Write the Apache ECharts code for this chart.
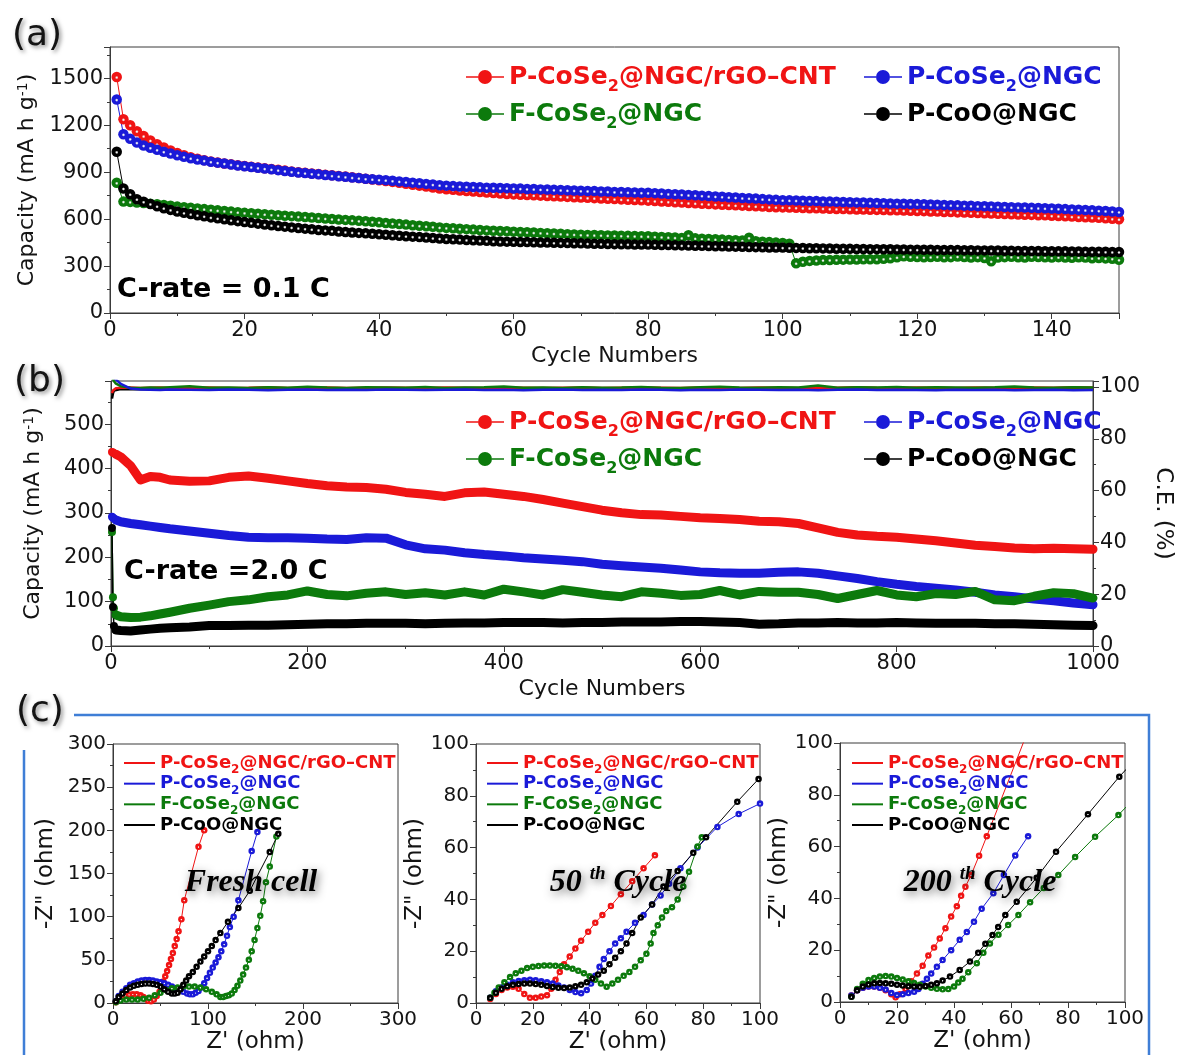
<!DOCTYPE html>
<html>
<head>
<meta charset="utf-8">
<script src="https://cdn.jsdelivr.net/npm/echarts@6/dist/echarts.min.js"></script>
<style>
  html, body { margin: 0; padding: 0; background: #ffffff; }
  #chart { width: 1182px; height: 1055px; }
</style>
</head>
<body>
<div id="chart"></div>
<script>
// ---------- series names ----------
const N_RED = 'P-CoSe2@NGC/rGO–CNT';
const N_BLUE = 'P-CoSe2@NGC';
const N_GREEN = 'F-CoSe2@NGC';
const N_BLACK = 'P-CoO@NGC';

// ---------- (a) capacity at 0.1 C, one value per cycle (cycle 1..150) ----------
const capA_red = [
  1508,1238,1200,1162,1131,1103,1079,1058,1039,1022,
  1008,996,986,977,969,962,956,950,945,940,
  935,930,925,920,915,910,905,900,896,892,
  888,884,880,876,872,868,863,858,853,848,
  843,838,832,826,820,814,808,802,796,791,
  787,783,779,776,773,770,767,764,761,758,
  756,754,752,750,748,746,744,742,740,738,
  736,734,732,730,728,726,724,722,720,718,
  716,713,711,708,706,703,701,698,696,694,
  692,690,688,686,684,682,680,678,676,675,
  674,673,671,670,669,668,666,665,664,663,
  662,661,660,659,658,657,656,655,654,652,
  651,649,648,646,645,643,642,640,639,637,
  636,634,633,631,630,628,627,625,624,622,
  620,618,616,614,612,610,608,605,602,599
];
const capA_blue = [
  1364,1142,1113,1089,1070,1056,1043,1031,1019,1008,
  998,989,981,974,967,961,955,949,943,938,
  933,928,923,918,913,908,903,898,894,890,
  886,882,878,874,870,866,862,858,855,852,
  849,845,841,837,833,829,825,821,817,814,
  811,809,807,805,803,801,800,799,798,796,
  795,793,792,790,789,787,786,784,783,781,
  780,779,777,776,774,773,771,770,769,768,
  766,764,761,759,757,754,752,750,747,745,
  743,740,738,735,733,731,728,726,723,721,
  720,719,717,716,715,713,712,711,709,708,
  707,706,704,703,702,700,699,698,697,696,
  695,693,692,690,689,688,686,685,683,682,
  681,679,678,676,675,674,672,671,669,668,
  666,664,662,660,658,656,654,652,649,646
];
const capA_green = [
  832,712,710,706,703,699,695,690,685,680,
  676,672,668,664,660,656,652,648,644,640,
  637,634,631,628,625,622,619,616,613,610,
  607,604,601,598,595,592,589,586,583,580,
  575,572,568,565,561,558,554,551,547,544,
  541,538,536,533,531,528,526,524,522,520,
  518,516,514,512,510,508,506,504,502,500,
  499,498,497,496,495,494,493,492,491,490,
  488,486,484,482,480,497,477,475,473,471,
  469,467,465,463,481,459,456,453,450,447,
  443,318,328,333,336,338,339,340,341,342,
  342,343,343,344,346,350,356,362,360,358,
  356,358,360,356,357,361,358,355,357,352,
  330,354,357,359,356,355,360,358,356,354,
  357,355,353,356,354,350,352,349,347,340
];
const capA_black = [
  1030,796,759,727,711,697,682,670,659,648,
  640,632,625,618,611,605,599,593,587,581,
  576,571,566,561,556,552,547,543,539,535,
  531,528,525,521,518,515,512,509,506,503,
  500,497,494,491,488,485,482,479,476,473,
  471,469,467,465,463,461,459,457,456,455,
  454,453,452,451,450,449,448,447,446,445,
  444,443,442,441,440,439,439,438,438,437,
  436,435,434,433,432,431,430,429,428,427,
  426,425,424,423,422,421,420,419,419,418,
  417,416,415,414,414,413,412,411,411,410,
  409,409,408,408,407,407,406,406,405,405,
  404,404,403,403,402,402,401,401,400,400,
  399,399,398,398,397,397,396,396,395,395,
  394,394,393,393,392,392,391,391,390,390
];

// ---------- (b) long cycling at 2.0 C ----------
const bCycle = [1,2,3,5,10,20,30,40,50,60,
  80,100,120,140,160,180,200,220,240,260,
  280,300,320,340,360,380,400,420,440,460,
  480,500,520,540,560,580,600,620,640,660,
  680,700,720,740,760,780,800,820,840,860,
  880,900,920,940,960,980,1000];
const capB_red = [437,436,434,432,426,406,374,382,380,374,
  371,372,380,383,378,372,366,361,358,357,
  353,346,342,337,345,347,342,337,330,322,
  314,306,300,296,295,292,289,287,285,281,
  280,276,266,256,250,247,245,241,237,232,
  227,224,221,219,220,219,218];
const capB_blue = [291,289,287,284,280,276,273,270,267,264,
  259,254,249,245,244,244,243,241,240,244,
  243,228,219,216,210,206,203,199,196,193,
  190,184,181,178,175,171,167,165,164,164,
  166,167,164,158,152,145,139,134,130,126,
  121,115,111,106,102,97,93];
const capB_green = [257,110,85,70,66,64,65,68,72,76,
  85,92,100,104,111,115,124,116,113,119,
  122,116,120,115,122,115,128,122,115,127,
  121,115,111,122,119,114,116,125,115,123,
  121,121,116,107,116,125,115,111,118,116,
  123,104,102,112,120,118,108];
const capB_black = [266,88,45,36,35,34,36,38,40,41,
  43,46,46,47,47,48,49,50,50,51,
  51,51,50,51,52,52,53,53,53,52,
  53,53,54,54,54,55,55,54,53,49,
  50,52,52,53,52,52,53,52,51,51,
  51,50,50,49,48,47,46];
// coulombic efficiency (%)
const ceB_red = [97.6,98.6,99.2,99.5,99.7,99.8,99.6,99.7,99.8,99.6,
  99.7,99.8,99.6,99.7,99.9,99.6,99.7,99.8,99.6,99.7,
  99.8,99.7,99.6,99.8,99.7,99.6,99.8,99.7,99.6,99.7,
  99.8,99.6,99.7,99.8,99.7,99.6,99.8,99.7,99.6,99.8,
  99.7,99.6,99.8,99.7,99.9,99.7,99.6,99.8,99.7,99.6,
  99.8,99.7,99.9,99.8,99.7,99.9,99.8];
const ceB_blue = [104.5,104,103.5,102.8,101.2,99.4,99.0,98.9,98.8,99.0,
  98.9,98.8,99.0,98.9,98.7,98.9,99.0,98.8,98.9,98.8,
  99.0,98.9,98.8,98.9,99.0,98.8,98.9,98.7,98.9,99.0,
  98.8,98.9,98.8,99.0,98.9,98.7,98.9,98.8,99.0,98.9,
  98.8,98.9,98.7,98.9,99.0,98.8,98.9,98.8,98.7,98.9,
  98.8,98.9,98.7,98.8,98.9,98.7,98.8];
const ceB_green = [104,103,102.2,101.3,100.3,99.7,99.6,99.8,99.7,99.9,
  100.3,99.7,99.8,99.6,99.9,99.7,100.1,99.8,99.6,99.9,
  99.8,99.7,100.0,99.6,99.8,99.9,100.2,99.7,99.8,99.6,
  99.9,99.7,99.8,100.0,99.7,99.6,99.9,100.1,99.8,99.7,
  99.9,99.8,100.6,99.7,99.9,99.8,100.0,99.7,99.9,99.8,
  99.7,99.9,100.2,99.8,99.7,99.9,99.8];
const ceB_black = [95.5,97.5,98.6,99.0,99.2,99.1,99.2,99.0,99.1,99.2,
  99.1,99.0,99.2,99.1,99.0,99.2,99.1,99.0,99.1,99.2,
  99.1,99.0,99.1,99.2,99.1,99.0,99.1,99.2,99.0,99.1,
  99.2,99.1,99.0,99.1,99.2,99.1,99.0,99.1,99.2,99.1,
  99.0,99.1,99.2,99.1,99.0,99.1,99.2,99.1,99.0,99.1,
  99.2,99.1,99.0,99.1,99.2,99.1,99.0];

// ---------- (c) Nyquist plots [Z', -Z''] in ohm ----------
const eisFresh_red = [[3,1],[6,4],[9,6.5],[13,8.5],[17,9.8],[21,10.2],[25,10],[29,9],[32,7],[35,4.5],[37,2.5],[40,2],[43,4],[46,8],[49,13],[51,19],[53,25],[55,31],[57,37],[59,44],[61,51],[63,58],[65,66],[67,74],[69,83],[72,97],[75,119],[90,181],[96,200]];
const eisFresh_blue = [[3,2],[6,8],[10,13],[14,17],[18,21],[22,23],[26,25],[30,26],[34,26.5],[38,26.5],[42,26],[46,25],[50,24],[54,23],[58,21],[62,19],[66,17],[70,15],[74,13],[78,11],[81,10],[84,10],[87,12],[90,14],[93,18],[96,23],[99,29],[102,35],[105,41],[108,47],[111,53],[114,60],[117,68],[120,78],[123,88],[127,100],[132,119],[146,176],[152,198]];
const eisFresh_green = [[3,1],[8,3],[14,4],[20,4],[26,4],[32,5],[38,6],[44,9],[50,12],[56,15],[62,17],[68,18],[74,19],[80,19],[86,19],[92,18],[98,16],[104,13],[109,10],[113,7],[116,7],[119,8],[122,9],[125,11],[128,15],[131,20],[134,26],[137,33],[140,41],[143,50],[146,60],[149,73],[152,87],[155,101],[158,118],[161,140],[165,158],[172,193]];
const eisFresh_black = [[3,2],[6,7],[10,11],[14,15],[18,18],[22,20],[26,21],[30,22],[34,22.5],[38,22.5],[42,22],[46,21],[50,19],[54,16],[58,13],[62,11],[65,11],[68,12],[71,16],[74,21],[77,26],[80,31],[84,36],[88,42],[92,48],[96,54],[100,60],[104,66],[108,73],[113,81],[121,94],[132,110],[144,130],[165,175],[174,196]];

const eis50_red = [[5,1.5],[7,3.5],[9,5],[11,6],[13,6.3],[15,5.5],[17,3.5],[19,2],[21,2],[23,2.5],[25,3],[26.5,5.5],[28,9],[29.5,12],[31,15],[33,18],[35,21],[37,24],[39.5,27.5],[42,31],[44.5,34],[47.5,37.5],[51,42],[55,47],[59,52],[63,57]];
const eis50_blue = [[5,2],[7,4.5],[9,6],[11,7],[13,8],[15,8.5],[17,8.8],[19,9],[21,8.8],[23,8.4],[25,8],[27,7.5],[29,6.8],[31,6],[33,5],[35,4.2],[37,3.8],[39,5],[40.5,7.5],[42,10.5],[43.5,14],[45,17],[47,20],[49,23],[51,25],[53,27.5],[56,31],[59,34],[62,38],[65,41.5],[68,46],[72,52],[78,60],[85,68],[92.5,73],[100,77]];
const eis50_green = [[5,2],[6.5,4],[8,6],[10,8],[12,10],[14,11.5],[16,12.5],[18,13.5],[20,14],[22,14.3],[24,14.5],[26,14.5],[28,14.4],[30,14.2],[32,13.8],[34,13.2],[36,12.5],[38,11.5],[40,10.3],[42,9],[44,7.5],[46,6.3],[48,7.5],[50,9],[52,10.5],[54,12],[56,14],[58,16.5],[60,19],[61.5,23],[62.5,27],[64,30],[65.5,33],[67,35.5],[69,37],[71,40],[73,45],[75,50.7],[78,60.4],[79.5,64]];
const eis50_black = [[5,2],[7,4],[9,5.5],[11,6.5],[13,7],[15,7.3],[17,7.5],[19,7.5],[21,7.3],[23,7],[25,6.6],[27,6.2],[29,5.9],[31,5.8],[33,6],[35,6.5],[37,7],[39,8],[41,9.5],[43,11],[45,12.5],[47,15],[49,17.5],[51,20],[53,23],[55,27],[58,33],[62,38],[66,45],[71,51],[76.5,58],[81,64],[92,77.7],[99.5,86.5]];

const eis200_red = [[4,2.5],[6,4.5],[8,5.5],[10,6],[12,6],[14,5.5],[16,4.5],[18,3],[19.5,1.8],[21,3],[23,5],[25,8],[27,11],[29,14],[31,18],[33,21],[35,24.5],[37,28.5],[39,33],[41,37],[42.5,41],[44,44.5],[46,49],[48.8,56.5],[51.5,64],[65,102]];
const eis200_blue = [[4,2.5],[6,4.5],[8,5.5],[10,6],[12,6],[14,5.5],[16,4.8],[18,3.5],[20,2.7],[22,3],[24,3.5],[26,4],[27.5,5],[29,7],[30.5,9],[32,11],[34,13.6],[36,16.2],[39,20],[42,24],[44.5,27],[47,31],[49.7,36],[53.8,42],[57.5,49],[61.5,56.6],[66,64]];
const eis200_green = [[4,2],[6,5],[8,7],[10,8.5],[12,9.3],[14,9.8],[16,10],[18,9.8],[20,9.3],[22,8.7],[24,8],[26,7.3],[28,6.7],[30,6],[32,5.5],[34,5.1],[36,4.9],[38,5],[40,6],[41.5,7.5],[43,9],[45,11.5],[48,15],[50.3,19],[52.6,22.6],[55.6,26],[59,29.7],[62.6,33.6],[66.7,38.5],[71.5,44],[76.6,49],[82.5,56],[89.5,63.8],[97.7,72.2],[101,76]];
const eis200_black = [[4,2],[6,4.5],[8,6],[10,6.8],[12,7.2],[14,7.3],[16,7.2],[18,7],[20,6.7],[22,6.4],[24,6.1],[26,6],[28,5.9],[30,6.2],[32,6.7],[34,7.2],[36,8.3],[38.6,9.8],[42,12.4],[45.6,15.6],[48.5,19],[51,22.5],[53.5,25.9],[55.5,29],[58,33.6],[62,38.7],[69,48],[75.8,58],[87,72.5],[98,87],[101,90.5]];

// ---------- styling ----------
const FF = '"DejaVu Sans", sans-serif';
const SERIF = '"Liberation Serif", "DejaVu Serif", serif';
const RED = '#f01414', BLUE = '#1a1ad8', GREEN = '#0c7a0c', BLACK = '#000000';
const TXT = '#141414';
const AX = '#3a3a3a';
const COLOR = {}; COLOR[N_RED] = RED; COLOR[N_BLUE] = BLUE; COLOR[N_GREEN] = GREEN; COLOR[N_BLACK] = BLACK;
const KEY = {}; KEY[N_RED] = 'r'; KEY[N_BLUE] = 'b'; KEY[N_GREEN] = 'g'; KEY[N_BLACK] = 'k';

// shaded ball marker
function ball(c) {
  return { type: 'radial', x: 0.5, y: 0.55, r: 0.5,
    colorStops: [ { offset: 0, color: '#ffffff' }, { offset: 0.1, color: '#eeeeee' },
                  { offset: 0.34, color: c }, { offset: 1, color: c } ] };
}
const cyclePairs = vals => vals.map((v, i) => [i + 1, v]);
const zipPairs = (xs, ys) => xs.map((x, i) => [x, ys[i]]);

// legend label with subscript "2" in CoSe2
function richName(name) {
  const k = KEY[name];
  if (name.indexOf('CoSe2') < 0) return '{' + k + '|' + name + '}';
  const p = name.split('CoSe2');
  return '{' + k + '|' + p[0] + 'CoSe}{' + k + 's|2}{' + k + '|' + p[1] + '}';
}
function makeRich(fs, sfs, lh) {
  const r = {};
  [['r', RED], ['b', BLUE], ['g', GREEN], ['k', BLACK]].forEach(([k, c]) => {
    r[k] = { color: c, fontSize: fs, fontWeight: 'bold', fontFamily: FF, lineHeight: lh };
    r[k + 's'] = { color: c, fontSize: sfs, fontWeight: 'bold', fontFamily: FF, verticalAlign: 'bottom' };
  });
  return r;
}
// line with a dot in the middle
const ICON_LS = 'path://M0,6.2H12V7.8H0Z M26,6.2H38V7.8H26Z M12,7A7,7 0 1,1 26,7A7,7 0 1,1 12,7Z';

function legendCol(left, top, names, icon, iw, ih, fs, sfs, lh, gap) {
  return {
    left: left, top: top, orient: 'vertical', itemGap: gap, itemWidth: iw, itemHeight: ih,
    padding: 0, selectedMode: false,
    data: names.map(n => ({ name: n, icon: icon, itemStyle: { color: COLOR[n], borderWidth: 0 } })),
    formatter: richName,
    textStyle: { fontFamily: FF, fontSize: fs, fontWeight: 'bold', lineHeight: lh, rich: makeRich(fs, sfs, lh) }
  };
}

function mkAxis(o) {
  const ax = {
    type: 'value', gridIndex: o.grid, min: o.min, max: o.max, interval: o.interval,
    position: o.position,
    axisLine: { show: true, onZero: false, lineStyle: { color: AX, width: 1 } },
    axisTick: { show: true, inside: false, length: 6, lineStyle: { color: AX, width: 1 } },
    minorTick: { show: true, splitNumber: 2, length: 3, lineStyle: { color: AX, width: 1 } },
    splitLine: { show: false }, minorSplitLine: { show: false },
    axisLabel: { color: TXT, fontSize: o.labelSize, fontFamily: FF, margin: 7,
                 formatter: v => String(v),
                 showMaxLabel: o.showMax !== false, showMinLabel: true },
    name: o.name, nameLocation: 'middle', nameGap: o.nameGap,
    nameTextStyle: { color: TXT, fontSize: o.nameSize, fontFamily: FF, lineHeight: o.nameSize,
      rich: { sup: { fontSize: 14, lineHeight: 14, verticalAlign: 'top', fontFamily: FF, color: TXT } } }
  };
  if (o.nameRotate !== undefined) ax.nameRotate = o.nameRotate;
  return ax;
}

const grids = [
  { left: 110, top: 47, width: 1009, height: 266 },
  { left: 111, top: 381, width: 1008, height: 265 },
  { left: 113, top: 744, width: 285, height: 259 },
  { left: 476, top: 744, width: 284, height: 259 },
  { left: 840, top: 743, width: 285, height: 259 }
].map(g => Object.assign({ show: true, borderColor: AX, borderWidth: 1, backgroundColor: 'transparent', containLabel: false }, g));

const xAxes = [
  mkAxis({ grid: 0, min: 0, max: 150, interval: 20, labelSize: 21, name: 'Cycle Numbers', nameGap: 32, nameSize: 22, showMax: false }),
  mkAxis({ grid: 1, min: 0, max: 1000, interval: 200, labelSize: 21, name: 'Cycle Numbers', nameGap: 32, nameSize: 22 }),
  mkAxis({ grid: 2, min: 0, max: 300, interval: 100, labelSize: 20, name: "Z' (ohm)", nameGap: 24, nameSize: 23 }),
  mkAxis({ grid: 3, min: 0, max: 100, interval: 20, labelSize: 20, name: "Z' (ohm)", nameGap: 24, nameSize: 23 }),
  mkAxis({ grid: 4, min: 0, max: 100, interval: 20, labelSize: 20, name: "Z' (ohm)", nameGap: 24, nameSize: 23 })
];
const yAxes = [
  mkAxis({ grid: 0, min: 0, max: 1700, interval: 300, labelSize: 21, name: 'Capacity (mA h g{sup|-1})', nameGap: 71, nameSize: 22, showMax: false }),
  mkAxis({ grid: 1, min: 0, max: 597, interval: 100, labelSize: 21, name: 'Capacity (mA h g{sup|-1})', nameGap: 67, nameSize: 22, showMax: false }),
  mkAxis({ grid: 1, min: 0, max: 102.3, interval: 20, labelSize: 21, name: 'C.E. (%)', nameGap: 44, nameSize: 23, showMax: false, position: 'right', nameRotate: -90 }),
  mkAxis({ grid: 2, min: 0, max: 300, interval: 50, labelSize: 20, name: '-Z" (ohm)', nameGap: 55, nameSize: 23 }),
  mkAxis({ grid: 3, min: 0, max: 100, interval: 20, labelSize: 20, name: '-Z" (ohm)', nameGap: 41, nameSize: 23 }),
  mkAxis({ grid: 4, min: 0, max: 100, interval: 20, labelSize: 20, name: '-Z" (ohm)', nameGap: 40, nameSize: 23 })
];

const series = [];
// (a) ball markers joined by thin lines
[[N_RED, capA_red], [N_BLUE, capA_blue], [N_GREEN, capA_green], [N_BLACK, capA_black]].forEach(([n, d]) => {
  series.push({ name: n, type: 'line', xAxisIndex: 0, yAxisIndex: 0, data: cyclePairs(d),
    symbol: 'circle', symbolSize: 10.5, showSymbol: true, itemStyle: { color: ball(COLOR[n]) },
    lineStyle: { color: COLOR[n], width: 1 }, emphasis: { disabled: true } });
});
// (b) capacity: first cycles as separate dots, then a dense band
const HEAD = 4; // cycles 1, 2, 3, 5
[[N_RED, capB_red], [N_BLUE, capB_blue], [N_GREEN, capB_green], [N_BLACK, capB_black]].forEach(([n, d]) => {
  const pts = zipPairs(bCycle, d);
  series.push({ name: n, type: 'line', xAxisIndex: 1, yAxisIndex: 1, data: pts.slice(HEAD - 1),
    symbol: 'none', lineStyle: { color: COLOR[n], width: 9, join: 'round', cap: 'round' },
    itemStyle: { color: COLOR[n] }, emphasis: { disabled: true } });
  series.push({ name: n, type: 'line', xAxisIndex: 1, yAxisIndex: 1, data: pts.slice(0, HEAD),
    symbol: 'circle', symbolSize: 8, showSymbol: true, lineStyle: { color: COLOR[n], width: 1.5 },
    itemStyle: { color: COLOR[n] }, emphasis: { disabled: true } });
});
// (b) coulombic efficiency on the right axis
[[N_BLACK, ceB_black], [N_RED, ceB_red], [N_GREEN, ceB_green], [N_BLUE, ceB_blue]].forEach(([n, d]) => {
  series.push({ name: n, type: 'line', xAxisIndex: 1, yAxisIndex: 2, data: zipPairs(bCycle, d),
    symbol: 'none', clip: true, lineStyle: { color: COLOR[n], width: 2.5 },
    itemStyle: { color: COLOR[n] }, emphasis: { disabled: true } });
});
// (c) Nyquist plots
[
  [2, 3, [[N_RED, eisFresh_red], [N_BLUE, eisFresh_blue], [N_GREEN, eisFresh_green], [N_BLACK, eisFresh_black]]],
  [3, 4, [[N_RED, eis50_red], [N_BLUE, eis50_blue], [N_GREEN, eis50_green], [N_BLACK, eis50_black]]],
  [4, 5, [[N_RED, eis200_red], [N_BLUE, eis200_blue], [N_GREEN, eis200_green], [N_BLACK, eis200_black]]]
].forEach(([xi, yi, list]) => {
  list.forEach(([n, d]) => {
    series.push({ name: n, type: 'line', xAxisIndex: xi, yAxisIndex: yi, data: d, clip: true,
      symbol: 'circle', symbolSize: 6.5, showSymbol: true, itemStyle: { color: ball(COLOR[n]) },
      lineStyle: { color: COLOR[n], width: 1 }, emphasis: { disabled: true } });
  });
});

const legends = [
  legendCol(466, 59, [N_RED, N_GREEN], ICON_LS, 38, 14, 25, 16, 36, 1),
  legendCol(864, 59, [N_BLUE, N_BLACK], ICON_LS, 38, 14, 25, 16, 36, 1),
  legendCol(466, 404, [N_RED, N_GREEN], ICON_LS, 38, 14, 25, 16, 36, 1),
  legendCol(864, 404, [N_BLUE, N_BLACK], ICON_LS, 38, 14, 25, 16, 36, 1),
  legendCol(124, 750, [N_RED, N_BLUE, N_GREEN, N_BLACK], 'rect', 31, 2, 18, 12, 26, -5.33),
  legendCol(487, 750, [N_RED, N_BLUE, N_GREEN, N_BLACK], 'rect', 31, 2, 18, 12, 26, -5.33),
  legendCol(852, 750, [N_RED, N_BLUE, N_GREEN, N_BLACK], 'rect', 31, 2, 18, 12, 26, -5.33)
];

const shadowLabel = { textShadowColor: 'rgba(0,0,0,0.45)', textShadowBlur: 4, textShadowOffsetX: 2, textShadowOffsetY: 2 };
const shadowTitle = { textShadowColor: 'rgba(0,0,0,0.55)', textShadowBlur: 8, textShadowOffsetX: 2, textShadowOffsetY: 3 };

function panelLabel(t, left, top) {
  return { type: 'text', left: left, top: top, z: 10,
    style: Object.assign({ text: t, fill: TXT, font: '36px ' + FF }, shadowLabel) };
}
function cycleTitle(main, x, y) {
  const a = Object.assign({ fontFamily: SERIF, fontStyle: 'italic', fontWeight: 'bold', fontSize: 32, lineHeight: 36, color: '#000' }, shadowTitle);
  const s = Object.assign({ fontFamily: SERIF, fontStyle: 'italic', fontWeight: 'bold', fontSize: 19, lineHeight: 26, verticalAlign: 'top', color: '#000' }, shadowTitle);
  return { type: 'text', x: x, y: y, z: 10,
    style: Object.assign({ text: '{a|' + main + ' }{s|th}{a| Cycle}', rich: { a: a, s: s }, align: 'center', verticalAlign: 'middle' }, shadowTitle) };
}

const graphic = [
  panelLabel('(a)', 12, 18),
  panelLabel('(b)', 14, 364),
  panelLabel('(c)', 16, 694),
  { type: 'text', left: 117, top: 276, z: 10, style: { text: 'C-rate = 0.1 C', fill: '#000', font: 'bold 27px ' + FF } },
  { type: 'text', left: 124, top: 558, z: 10, style: { text: 'C-rate =2.0 C', fill: '#000', font: 'bold 27px ' + FF } },
  { type: 'text', x: 251, y: 883, z: 10,
    style: Object.assign({ text: 'Fresh cell', fill: '#000', font: 'italic bold 32px ' + SERIF, align: 'center', verticalAlign: 'middle' }, shadowTitle) },
  cycleTitle('50', 618, 883),
  cycleTitle('200', 980, 883),
  // frame around panel (c)
  { type: 'polyline', z: 5, shape: { points: [[24, 1055], [24, 750]] }, style: { stroke: '#3f7ed6', lineWidth: 2.5, fill: null } },
  { type: 'polyline', z: 5, shape: { points: [[74, 715], [1149, 715], [1149, 1055]] }, style: { stroke: '#3f7ed6', lineWidth: 2.5, fill: null } }
];

const chart = echarts.init(document.getElementById('chart'), null, { renderer: 'canvas' });
chart.setOption({
  animation: false,
  backgroundColor: '#ffffff',
  textStyle: { fontFamily: FF },
  grid: grids,
  xAxis: xAxes,
  yAxis: yAxes,
  legend: legends,
  series: series,
  graphic: graphic
});
</script>
</body>
</html>
